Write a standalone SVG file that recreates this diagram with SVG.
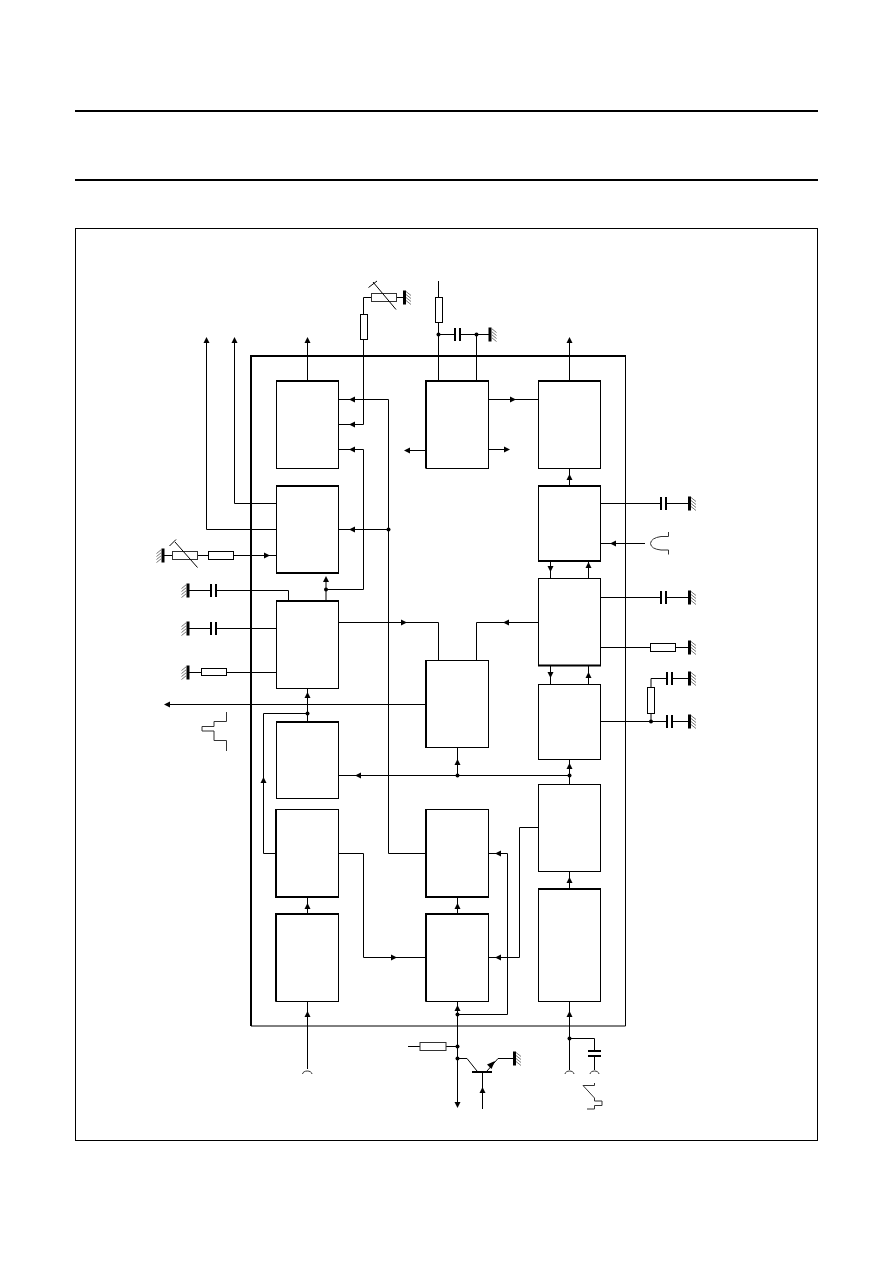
<svg xmlns="http://www.w3.org/2000/svg" width="893" height="1263" viewBox="0 0 893 1263">
<style>
.l{fill:none;stroke:#000;stroke-width:1}
.t{fill:none;stroke:#000;stroke-width:2}
.b{fill:#fff;stroke:#000;stroke-width:1}
.g{fill:#fff;stroke:#333;stroke-width:1}
.w{fill:none;stroke:#333;stroke-width:1}
.h{fill:none;stroke:#777;stroke-width:1}
.d{fill:#000}
</style>
<defs>
<polygon id="au" class="d" points="0,0 -3,6 3,6"/>
<polygon id="ad" class="d" points="0,0 -3,-6 3,-6"/>
<polygon id="al" class="d" points="0,0 6,-3 6,3"/>
<polygon id="ar" class="d" points="0,0 -6,-3 -6,3"/>
<circle id="dot" class="d" r="2"/>
<g id="gr">
<rect class="d" x="-1.5" y="-7" width="3" height="14"/>
<path class="h" d="M1.5,-6 l5,4 M1.5,-3 l5,4 M1.5,0 l5,4 M1.5,3 l5,4"/>
</g>
<g id="gl">
<rect class="d" x="-1.5" y="-7" width="3" height="14"/>
<path class="h" d="M-1.5,-6 l-5,4 M-1.5,-3 l-5,4 M-1.5,0 l-5,4 M-1.5,3 l-5,4"/>
</g>
<g id="cv">
<rect class="d" x="-3.5" y="-6.5" width="2" height="13"/>
<rect class="d" x="1.5" y="-6.5" width="2" height="13"/>
</g>
</defs>

<rect width="893" height="1263" fill="#fff"/>
<g id="header">
<path class="t" d="M75,111H818M75,180H818"/>
</g>
<rect id="frame" x="75.5" y="228.5" width="742" height="912" class="l"/>
<g id="ic-outline">
<path class="l" d="M625.5,356V1026H251"/>
<path class="t" d="M251,1026V356H626"/>
</g>

<g id="connectors">
<path class="l" d="M307.5,381V340M234.5,340V503.5H276M206.5,340V529.5H276"/>
<path class="l" d="M338,424.5H363.5V297.5H371M397,297.5H404"/>
<path class="l" d="M338,399.5H388.5V853.5H426M338,449.5H363.5V589.5H326M338,529.5H388.5"/>
<path class="l" d="M326,601V578"/>
<path class="l" d="M163,555.5H172M198,555.5H208M234,555.5H276"/>
<path class="l" d="M188,590.5H211M216,590.5H288.5V601M188,628.5H211M216,628.5H276M188,672.5H201M227,672.5H276"/>
<path class="l" d="M307.5,722V688M307.5,713.5H263.5V853.5H275.5M426,704.5H168"/>
<path class="l" d="M338,622.5H438.5V660.5M538,622.5H476.5V660.5M569.5,775.5H338"/>
<path class="l" d="M457.5,747V775.5M569.5,784.5V759"/>
<path class="l" d="M569.5,381V340M569.5,486V468M550.5,561V578M588.5,561V578M550.5,666V684M588.5,666V684"/>
<path class="l" d="M438.5,381V281M438.5,334.5H454M461,334.5H490M476.5,334.5V381"/>
<path class="l" d="M488,399.5H538M488,449.5H508M426,450.5H406"/>
<path class="l" d="M600,503.5H660M667,503.5H689M645,543.5H600M600,597.5H660M667,597.5H689M600,647.5H650M676,647.5H689M600,721.5H666M673,721.5H689"/>
<path class="l" d="M651,713V721M651,687V678.5H666M673,678.5H689"/>
<path class="l" d="M338,853.5H363.5V957.5H426M307.5,897V914M457.5,897V914M569.5,871V889"/>
<path class="l" d="M538,827.5H519.5V957.5H488M488,853.5H507.5V1014.5H457.5"/>
<path class="l" d="M457.5,1001V1106M408,1046.5H420M446,1046.5H457.5M457.5,1058.5H467L477,1071M487,1071L498,1058.5H514M482.5,1072V1109"/>
<path class="l" d="M569.5,1001V1070M569.5,1038.5H594.5V1051M594.5,1056V1070M307.5,1001V1069"/>
<g id="arrows">
<use href="#au" x="307.5" y="337"/><use href="#au" x="234.5" y="337"/><use href="#au" x="206.5" y="337"/><use href="#au" x="569.5" y="337"/>
<use href="#al" x="349" y="399.5"/><use href="#al" x="349" y="424.5"/><use href="#al" x="349" y="449.5"/><use href="#al" x="349" y="529.5"/>
<use href="#au" x="326" y="576"/><use href="#ar" x="270" y="555.5"/><use href="#au" x="307.5" y="692"/>
<use href="#al" x="164" y="704.5"/><use href="#au" x="263.5" y="777"/><use href="#ar" x="407" y="622.5"/><use href="#al" x="503" y="622.5"/>
<use href="#al" x="355" y="775.5"/><use href="#au" x="457.5" y="759"/><use href="#au" x="569.5" y="763"/>
<use href="#au" x="569.5" y="474"/><use href="#ad" x="550.5" y="572"/><use href="#au" x="588.5" y="562"/><use href="#ad" x="550.5" y="678"/><use href="#au" x="588.5" y="672"/>
<use href="#ar" x="516" y="399.5"/><use href="#ar" x="510" y="449.5"/><use href="#al" x="404" y="450.5"/><use href="#al" x="610" y="543.5"/>
<use href="#ar" x="397" y="957.5"/><use href="#al" x="495" y="957.5"/><use href="#al" x="495" y="853.5"/>
<use href="#au" x="307.5" y="903"/><use href="#au" x="457.5" y="903"/><use href="#au" x="569.5" y="877"/>
<use href="#au" x="457.5" y="1005"/><use href="#ad" x="457.5" y="1108"/><use href="#au" x="569.5" y="1011"/><use href="#au" x="307.5" y="1011"/><use href="#au" x="482.5" y="1087"/>
<polygon class="d" points="495,1061 487,1064.5 491.5,1069"/>
</g>
<g id="dots">
<use href="#dot" x="388.5" y="529.5"/><use href="#dot" x="326" y="589.5"/><use href="#dot" x="307.5" y="713.5"/><use href="#dot" x="457.5" y="775.5"/><use href="#dot" x="569.5" y="775.5"/>
<use href="#dot" x="438.5" y="334.5"/><use href="#dot" x="476.5" y="334.5"/><use href="#dot" x="651" y="721.5"/>
<use href="#dot" x="457.5" y="1014.5"/><use href="#dot" x="457.5" y="1046.5"/><use href="#dot" x="457.5" y="1058.5"/><use href="#dot" x="569.5" y="1038.5"/>
</g>
</g>

<g id="block-a"><rect class="b" x="276.5" y="381.5" width="62" height="87"/><path class="t" d="M276,381H339"/></g>
<g id="block-b"><rect class="b" x="276.5" y="486.5" width="62" height="87"/><path class="t" d="M276,486H339M276,573H339"/></g>
<g id="block-c"><rect class="b" x="276.5" y="601.5" width="62" height="87"/><path class="t" d="M276,601H339"/></g>
<g id="block-d"><rect class="b" x="276.5" y="722.5" width="62" height="76"/><path class="t" d="M276,722H339"/></g>
<g id="block-e"><rect class="b" x="276" y="809.5" width="62.5" height="87.5"/><path class="t" d="M276,809V897H339"/></g>
<g id="block-f"><rect class="b" x="276" y="914.5" width="62.5" height="87"/><path class="t" d="M276,1001.5V914H339"/></g>
<g id="block-g"><rect class="b" x="426" y="381.5" width="62.5" height="87"/><path class="t" d="M426,468V381H489"/></g>
<g id="block-h"><rect class="b" x="426" y="660.5" width="62.5" height="87"/><path class="t" d="M426,660V748"/></g>
<g id="block-i"><rect class="b" x="426" y="809.5" width="62.5" height="87.5"/><path class="t" d="M426,809V897H489"/></g>
<g id="block-j"><rect class="b" x="426" y="914.5" width="62.5" height="87"/><path class="t" d="M426,1001.5V914H489"/></g>
<g id="block-k"><rect class="b" x="538.5" y="381.5" width="62" height="87"/><path class="t" d="M538,381H601"/></g>
<g id="block-l"><rect class="b" x="538.5" y="486.5" width="62" height="74.5"/><path class="t" d="M538,486H601M538,561H601"/></g>
<g id="block-m"><rect class="b" x="538.5" y="578.5" width="62" height="87"/><path class="t" d="M538,665.5H601"/></g>
<g id="block-n"><rect class="b" x="538.5" y="684.5" width="62" height="75"/></g>
<g id="block-o"><rect class="b" x="538.5" y="784.5" width="62" height="87"/></g>
<g id="block-p"><rect class="b" x="538.5" y="889.5" width="62" height="112"/><path class="t" d="M538,889H601"/></g>

<g id="ext-top-trim">
<rect class="g" x="371.5" y="293.5" width="25" height="8"/>
<path class="l" d="M373,282L396,309.5M368.5,287.5L377,281"/>
<use href="#gr" x="404.5" y="297.5"/>
<rect class="b" x="360.5" y="314.5" width="7" height="25"/>
</g>
<g id="ext-top-res"><rect class="b" x="435.5" y="297.5" width="7" height="25"/></g>
<g id="ext-top-cap"><use href="#cv" x="457.5" y="334.5"/><use href="#gr" x="490" y="334.5"/></g>
<g id="ext-left-trim">
<use href="#gl" x="163" y="555.5"/>
<rect class="g" x="172.5" y="551.5" width="25" height="8"/>
<path class="l" d="M175,542L197.5,567.5M169.5,546L176,539.5"/>
<rect class="b" x="208.5" y="551.5" width="25" height="8"/>
</g>
<g id="ext-left-1"><use href="#gl" x="188" y="590.5"/><use href="#cv" x="213.5" y="590.5"/></g>
<g id="ext-left-2"><use href="#gl" x="188" y="628.5"/><use href="#cv" x="213.5" y="628.5"/></g>
<g id="ext-left-3"><use href="#gl" x="188" y="672.5"/><rect class="b" x="201.5" y="668.5" width="25" height="7"/></g>
<path id="wave-left" class="w" d="M226.5,712V721.5H214V726.5H202V731H214V740.5H226.5V751"/>
<g id="ext-right-1"><use href="#cv" x="663.5" y="503.5"/><use href="#gr" x="689.5" y="503.5"/></g>
<path id="pulse-right" class="w" d="M668.5,532V536.5H661Q651,538 650.5,543.5Q651,549 661,550H668.5V554.5"/>
<g id="ext-right-2"><use href="#cv" x="663.5" y="597.5"/><use href="#gr" x="689.5" y="597.5"/></g>
<g id="ext-right-3"><rect class="b" x="650.5" y="643.5" width="25" height="8"/><use href="#gr" x="689.5" y="647.5"/></g>
<g id="ext-right-4"><rect class="b" x="647.5" y="687.5" width="7" height="26"/><use href="#cv" x="669.5" y="678.5"/><use href="#gr" x="689.5" y="678.5"/><use href="#cv" x="669.5" y="721.5"/><use href="#gr" x="689.5" y="721.5"/></g>
<g id="ext-bottom-res"><rect class="g" x="420" y="1042.5" width="26" height="8"/></g>
<g id="transistor"><path class="t" d="M472,1072H492"/><use href="#gr" x="514.5" y="1058.5"/></g>
<g id="ext-bottom-cap"><path class="t" d="M588,1051H601M588,1056H601"/></g>
<g id="inputs">
<path class="w" d="M302.5,1074C303,1070 311.5,1070 312,1074M565,1074C565.5,1070 573.5,1070 574,1074M590,1074C590.5,1070 598.5,1070 599,1074"/>
<path class="w" d="M594.5,1083V1085.5H583L594.5,1098V1101H602V1105.5H594.5V1109H587"/>
</g>
</svg>
